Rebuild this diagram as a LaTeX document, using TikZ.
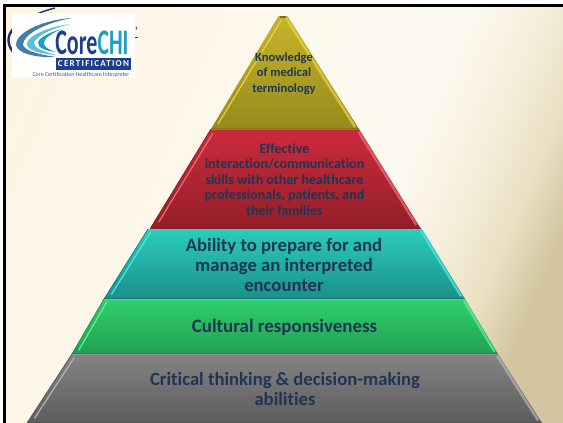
\documentclass[tikz,border=0pt]{standalone}
\usepackage{fontspec}
\setmainfont{Carlito}[Ligatures=NoCommon]
\usetikzlibrary{calc}
\definecolor{txt}{HTML}{1F3553}
\definecolor{bA}{HTML}{FEF3E0}\definecolor{bB}{HTML}{FDF7E9}\definecolor{bC}{HTML}{FDFAF1}
\definecolor{bD}{HTML}{F6EFDC}\definecolor{bE}{HTML}{EADFC2}\definecolor{bF}{HTML}{D2C49E}
\definecolor{yT}{HTML}{C8B42A}\definecolor{yB}{HTML}{978A1C}\definecolor{yG}{HTML}{E3D34F}\definecolor{yD}{HTML}{857A18}
\definecolor{rT}{HTML}{CB2B3C}\definecolor{rB}{HTML}{941E28}\definecolor{rG}{HTML}{EC6A78}\definecolor{rD}{HTML}{7F1A22}
\definecolor{tT}{HTML}{2ACDBB}\definecolor{tB}{HTML}{1B8F8C}\definecolor{tG}{HTML}{55E3DC}\definecolor{tD}{HTML}{177A78}
\definecolor{gT}{HTML}{2FCF6D}\definecolor{gB}{HTML}{22A050}\definecolor{gG}{HTML}{66EC94}\definecolor{gD}{HTML}{1C8A44}
\definecolor{aT}{HTML}{848484}\definecolor{aB}{HTML}{5C5C5C}\definecolor{aG}{HTML}{B4B4B4}\definecolor{aD}{HTML}{555555}
\definecolor{lgD}{HTML}{1C3E8C}\definecolor{lgT}{HTML}{1CA0C0}\definecolor{lgM}{HTML}{3F7FA8}
\tikzset{
  lab/.style={text=txt,font=\bfseries,align=center,inner sep=0pt},
  gloss/.style={line width=1.2pt,line cap=round},
  glossr/.style={line width=2.4pt,opacity=.75},
}
% colour bands across the background, painted from left to right
\newcommand{\bgseg}[4]{%
  \foreach \tval in {#1,\the\numexpr#1+3\relax,...,#2}{%
    \pgfmathsetmacro{\pp}{100*((\tval-#1)/(#2-#1))}%
    \fill[#4!\pp!#3] ({(\tval+3.9)/.92},-10) -- (600,-10) -- (600,433) -- ({(\tval-168.9)/.92},433) -- cycle;
  }%
}
% #1 xtl #2 xtr #3 ytop #4 xbl #5 xbr #6 ybot #7 colour prefix
\newcommand{\slab}[7]{%
  \shade[top color=#7T,bottom color=#7B] (#1,#3) -- (#2,#3) -- (#5,#6) -- (#4,#6) -- cycle;
  \draw[#7D,line width=1.2pt] (#4,#6-.6) -- (#5,#6-.6);
  \draw[#7T!70!white,line width=.6pt,opacity=.6] (#1,#3+.5) -- (#2,#3+.5);
  \draw[#7G,gloss] ($(#1,#3)!.05!(#4,#6)+(4.5,0)$) -- ($(#1,#3)!.93!(#4,#6)+(4.5,0)$);
  \draw[#7G,glossr] ($(#2,#3)!.03!(#5,#6)+(-2.2,0)$) -- ($(#2,#3)!.96!(#5,#6)+(-2.2,0)$);
  \draw[#7D,line width=.7pt] (#1,#3) -- (#4,#6);
}
\begin{document}
\begin{tikzpicture}[x=1pt,y=-1pt]
\useasboundingbox (0,0) rectangle (563,423);
\begin{scope}
\clip (0,0) rectangle (563,423);
\fill[bA] (0,0) rectangle (563,423);
\bgseg{0}{170}{bA}{bB}
\bgseg{170}{430}{bB}{bC}
\bgseg{430}{500}{bC}{bD}
\bgseg{500}{560}{bD}{bE}
\bgseg{560}{610}{bE}{bF}
\end{scope}
% frame
\fill[white] (0,0) rectangle (563,4);
\fill[white] (0,0) rectangle (3,423);
\fill[black] (3,4) rectangle (563,7.3);
\fill[black] (3,4) rectangle (6,423);
% pyramid
\shade[top color=yT,bottom color=yB] (278.5,16) -- (287.5,16) -- (359,129) -- (211,129) -- cycle;
\draw[yD,line width=1.2pt] (211,128.4) -- (359,128.4);
\draw[yG,gloss] (281.5,20) -- (218,124);
\draw[yG,glossr] (286,18) -- (355,127);
\fill[yT!60!black] (280,16) rectangle (286,17.5);
\slab{211}{359}{129}{150}{421}{229}{r}
\slab{148}{422}{229}{104}{465}{299}{t}
\slab{104}{465}{299}{72}{498}{354}{g}
\slab{72}{498}{354}{27}{542}{423}{a}
% labels
\node[lab,font=\bfseries\fontsize{12.5}{15.5}\selectfont] (know) at (284,73.5) {Knowledge\\of medical\\terminology};
\node[lab,font=\bfseries\fontsize{14}{15.6}\selectfont] (inter) at (284.5,179.5) {Effective\\interaction/communication\\skills with other healthcare\\professionals, patients, and\\their families};
\node[lab,font=\bfseries\fontsize{18.7}{20.2}\selectfont] (prep) at (284,265) {Ability to prepare for and\\manage an interpreted\\encounter};
\node[lab,font=\bfseries\fontsize{18.9}{20}\selectfont] (cult) at (284.5,327.5) {Cultural responsiveness};
\node[lab,font=\bfseries\fontsize{18.7}{20}\selectfont] (crit) at (285,389) {Critical thinking \& decision-making\\abilities};
% logo: arcs behind the white card
\draw[lgD!80!black,line width=2.4pt] (13,29) .. controls (7,36) and (7,44) .. (13,52);
\draw[lgD!80!black,line width=1.4pt] (37,14) .. controls (44,11) and (49,9.5) .. (55,8);
\draw[lgD,line width=.5pt] (135,27) -- (137,27) -- (136,30);
\draw[lgD,line width=.5pt] (135,37.5) -- (138,37.5);
\fill[white] (12,13) rectangle (135,78);
\fill[lgM] (72,18) .. controls (40,20) and (15,34) .. (16,45) .. controls (17,53) and (35,58) .. (56,57) .. controls (36,54) and (23,50) .. (23,44) .. controls (24,34) and (45,23) .. (72,18) -- cycle;
\fill[lgT!70!white] (70,24) .. controls (48,27) and (27,36) .. (27,44) .. controls (27,50) and (40,54) .. (56,55) .. controls (42,51) and (34,48) .. (34,43) .. controls (35,37) and (50,29) .. (70,24) -- cycle;
\fill[lgT] (62,29) .. controls (50,32) and (38,38) .. (38,43) .. controls (38,48) and (46,51) .. (56,52) .. controls (47,49) and (43,46) .. (44,42) .. controls (45,38) and (52,33) .. (62,29) -- cycle;
\node[inner sep=0pt,anchor=base east,text=lgD,font=\bfseries\fontsize{36}{36}\selectfont,xscale=.61] (core) at (97.5,54) {Core};
\node[inner sep=0pt,anchor=base west,text=lgT,font=\bfseries\fontsize{36}{36}\selectfont,xscale=.6] (chi) at (97.5,54) {CHI};
\fill[lgD] (55.5,58) rectangle (131,69.5);
\node[inner sep=0pt,text=white,font=\bfseries\fontsize{9}{9}\selectfont\addfontfeature{LetterSpace=14}] (cert) at (93.5,63.8) {CERTIFICATION};
\node[inner sep=0pt,text=lgD!65!gray,font=\fontsize{5.9}{6}\selectfont] (tag) at (81,74.5) {Core Certification Healthcare Interpreter};
\end{tikzpicture}
\end{document}
